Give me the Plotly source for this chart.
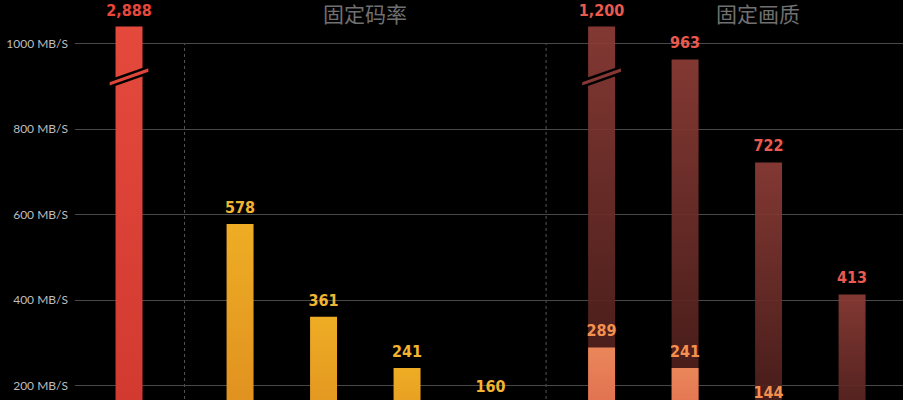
import plotly.graph_objects as go

# ---------------- data ----------------
ref_names = ["软件编码"]
ref_values = [2888]

cbr_names = ["A", "B", "C", "D"]
cbr_values = [578, 361, 241, 160]

cq_names = ["A", "B", "C", "D"]
cq_high = [1200, 963, 722, 413]
cq_low = [289, 241, 144, 96]

group_titles = ["固定码率", "固定画质"]
y_ticks = [0, 200, 400, 600, 800, 1000]
y_tick_text = [f"{v} MB/S" for v in y_ticks]

# ---------------- style ----------------
CAP = 1040          # display height for broken (off-scale) bars
BREAK_AT = 915      # where the break mark sits
BAR_W = 0.323
GROUP_GAP = 0.33
LABEL_OFF = 35      # label centre above bar top (data units)

RED = ("#cf372e", "#e4493c", "#e8473c")          # bottom, top, label
ORANGE = ("#db871e", "#eead24", "#f2b532")
DARK = ("rgba(58,22,20,0.92)", "rgba(142,61,55,0.92)", "#ea5a4f")
SALMON = ("#d55945", "#ea865a", "#f5914f")

LABEL_FONT = dict(family="Liberation Sans Narrow, DejaVu Sans Condensed, sans-serif",
                  size=16, weight="bold")

# positions
pos_ref = [0.0]
pos_cbr = [1 + i + GROUP_GAP for i in range(len(cbr_values))]
pos_cq = [1 + len(cbr_values) + i + 2 * GROUP_GAP for i in range(len(cq_high))]

fig = go.Figure()


def add_bar(p, v, colors):
    shown = min(v, CAP)
    w = BAR_W / 2
    fig.add_trace(go.Scatter(
        x=[p - w, p - w, p + w, p + w, p - w],
        y=[0, shown, shown, 0, 0],
        mode="lines", fill="toself", line=dict(width=0),
        fillgradient=dict(type="vertical", start=0, stop=shown,
                          colorscale=[[0, colors[0]], [1, colors[1]]]),
        hoverinfo="skip", showlegend=False))


def add_labels(ps, vs, color):
    fig.add_trace(go.Scatter(
        x=ps, y=[min(v, CAP) + LABEL_OFF for v in vs],
        mode="text", text=[f"{v:,}" for v in vs], textposition="middle center",
        textfont=dict(color=color, **LABEL_FONT), cliponaxis=False,
        hoverinfo="skip", showlegend=False))


for p, v in zip(pos_ref, ref_values):
    add_bar(p, v, RED)
for p, v in zip(pos_cbr, cbr_values):
    add_bar(p, v, ORANGE)
for p, v in zip(pos_cq, cq_high):
    add_bar(p, v, DARK)
for p, v in zip(pos_cq, cq_low):
    add_bar(p, v, SALMON)

add_labels(pos_ref, ref_values, RED[2])
add_labels(pos_cbr, cbr_values, ORANGE[2])
add_labels(pos_cq, cq_high, DARK[2])
add_labels(pos_cq, cq_low, SALMON[2])

# break marks on off-scale bars
for p, v, fillc in [(pos_ref[0], ref_values[0], "#e0453a"), (pos_cq[0], cq_high[0], "#843733")]:
    if v > CAP:
        hw = BAR_W / 2 + 0.085
        rise, th = 17, 14
        path = (f"M {p - hw},{BREAK_AT - rise} L {p + hw},{BREAK_AT + rise} "
                f"L {p + hw},{BREAK_AT + rise + th} L {p - hw},{BREAK_AT - rise + th} Z")
        fig.add_shape(type="path", path=path, xref="x", yref="y",
                      fillcolor=fillc, line=dict(color="#000000", width=2.5), layer="above")

# dashed separators between groups
for xs in [(pos_ref[-1] + pos_cbr[0]) / 2, (pos_cbr[-1] + pos_cq[0]) / 2]:
    fig.add_shape(type="line", xref="x", yref="y", x0=xs, x1=xs, y0=0, y1=y_ticks[-1],
                  line=dict(color="#555555", width=1, dash="3px,3px"), layer="below")

# group titles
for t, xp in zip(group_titles, [0.350, 0.825]):
    fig.add_annotation(text=t, xref="paper", yref="paper", x=xp, y=0.968,
                       xanchor="center", yanchor="middle", showarrow=False,
                       font=dict(family="Noto Sans CJK SC", size=21, color="#707070"))

fig.update_layout(
    width=903, height=400,
    margin=dict(l=75, r=0, t=0, b=0),
    paper_bgcolor="#000000", plot_bgcolor="#000000",
    showlegend=False,
    xaxis=dict(range=[-0.647, 9.27], visible=False, fixedrange=True),
    yaxis=dict(range=[166, 1102], tickvals=y_ticks, ticktext=y_tick_text,
               showgrid=True, gridcolor="#484848", gridwidth=1, zeroline=False,
               showline=False, ticks="", ticklabelstandoff=6,
               tickfont=dict(family="Lato, sans-serif", size=12, color="#bdbdbd"),
               fixedrange=True),
)

fig.write_html(
    "out.html",
    config={"displayModeBar": False},
    post_script="document.body.style.margin='0';document.body.style.background='#000';"
                "document.documentElement.style.overflow='hidden';",
)
